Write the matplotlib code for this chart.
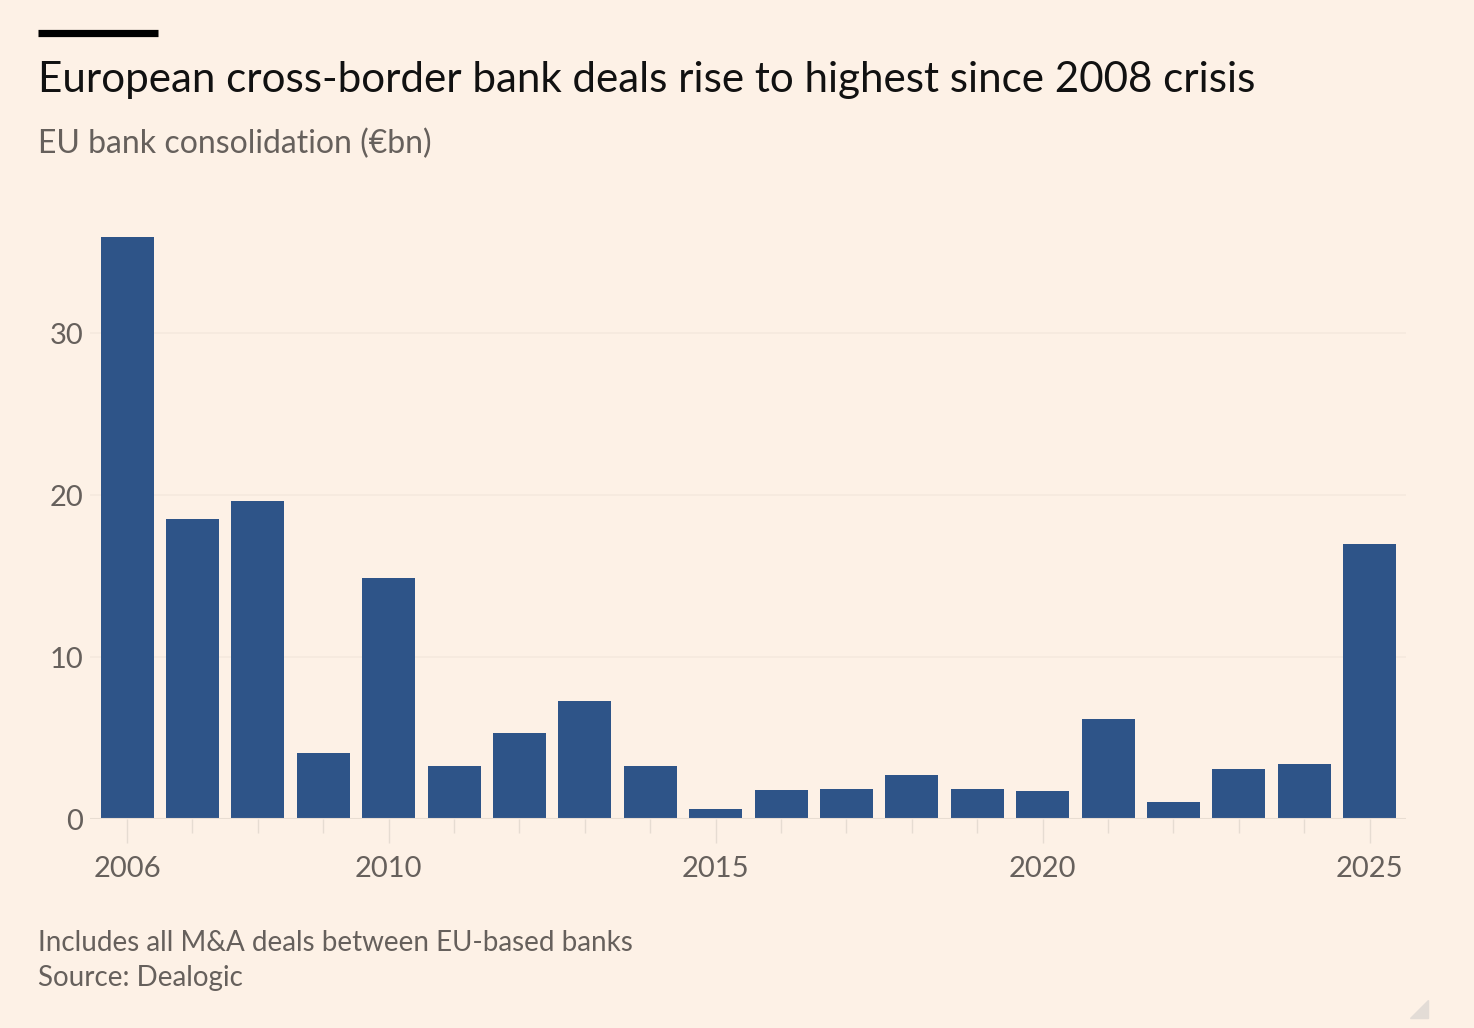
import numpy as np
import matplotlib.pyplot as plt
from matplotlib.patches import Polygon

years = list(range(2006, 2026))
values = [35.9, 18.5, 19.6, 4.1, 14.9, 3.3, 5.3, 7.3, 3.3, 0.6,
          1.8, 1.85, 2.7, 1.85, 1.7, 6.2, 1.05, 3.1, 3.4, 17.0]
major_years = [2006, 2010, 2015, 2020, 2025]
y_ticks = [0, 10, 20, 30]

bg = '#fdf1e6'
bar_color = '#2e5488'
grey = '#66605c'

plt.rcParams['font.family'] = ['Lato', 'DejaVu Sans']

fig = plt.figure(figsize=(14.74, 10.28), dpi=100, facecolor=bg)
ax = fig.add_axes([90 / 1474, 1 - 819 / 1028, (1406 - 90) / 1474, (819 - 235.8) / 1028])
ax.set_facecolor(bg)

ax.bar(years, values, width=0.81, color=bar_color, zorder=3)

ax.set_xlim(2005.434, 2025.556)
ax.set_ylim(0, 36)

# grid
ax.set_yticks(y_ticks)
ax.set_yticklabels([str(t) for t in y_ticks])
ax.grid(axis='y', color='#f5e9de', linewidth=1.2, zorder=0)
ax.axhline(0, color='#e8ddd2', linewidth=1.5, zorder=4)

ax.set_xticks(major_years)
ax.set_xticklabels([str(y) for y in major_years])
ax.set_xticks(years, minor=True)

ax.tick_params(axis='y', length=0, pad=5, labelsize=21, labelcolor=grey)
ax.tick_params(axis='x', which='major', length=17, width=1, color='#e6dcd2',
               pad=9.5, labelsize=21, labelcolor=grey)
ax.tick_params(axis='x', which='minor', length=10, width=1, color='#e6dcd2')

for s in ax.spines.values():
    s.set_visible(False)

# header
fig.add_artist(plt.Line2D([38 / 1474, 158 / 1474], [1 - 33 / 1028, 1 - 33 / 1028],
                          color='black', linewidth=5.2, solid_capstyle='butt'))
fig.text(38 / 1474, 1 - 80 / 1028, 'European cross-border bank deals rise to highest since 2008 crisis',
         fontsize=30.3, color='#111111', va='center', ha='left')
fig.text(38 / 1474, 1 - 144 / 1028, 'EU bank consolidation (€bn)',
         fontsize=23, color=grey, va='center', ha='left')

# footer
fig.text(38 / 1474, 1 - 943 / 1028, 'Includes all M&A deals between EU-based banks',
         fontsize=20, color=grey, va='center', ha='left')
fig.text(38 / 1474, 1 - 978 / 1028, 'Source: Dealogic',
         fontsize=20, color=grey, va='center', ha='left')

# corner mark
tri = Polygon([[1428 / 1474, 1 - 1000 / 1028], [1428 / 1474, 1 - 1018 / 1028],
               [1410 / 1474, 1 - 1018 / 1028]], closed=True,
              transform=fig.transFigure, color='#e3dcd6')
fig.add_artist(tri)

fig.savefig('out.png', dpi=100, facecolor=bg)
